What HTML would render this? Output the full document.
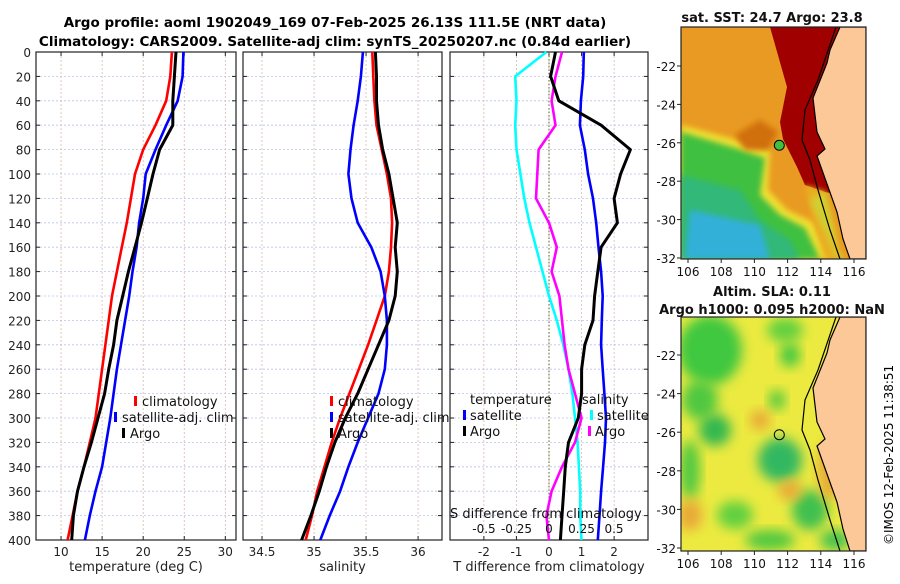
<!DOCTYPE html>
<html><head><meta charset="utf-8"><style>
body{margin:0;background:#fff;font-family:"DejaVu Sans","Liberation Sans",sans-serif;}
svg text{font-family:"DejaVu Sans","Liberation Sans",sans-serif;}
</style></head><body>
<svg id="fig" width="900" height="580" viewBox="0 0 900 580" xmlns="http://www.w3.org/2000/svg">
<defs>
<filter id="blur" x="-30%" y="-30%" width="160%" height="160%"><feGaussianBlur stdDeviation="6"/></filter>
<filter id="blur2" x="-30%" y="-30%" width="160%" height="160%"><feGaussianBlur stdDeviation="3"/></filter>
<clipPath id="c1"><rect x="681" y="27" width="185" height="232"/></clipPath>
<clipPath id="c2"><rect x="681" y="317" width="185" height="234"/></clipPath>
</defs>
<text x="335" y="27" text-anchor="middle" font-size="13.5" font-weight="bold">Argo profile: aoml 1902049_169 07-Feb-2025 26.13S 111.5E (NRT data)</text>
<text x="335" y="46" text-anchor="middle" font-size="13.5" font-weight="bold">Climatology: CARS2009. Satellite-adj clim: synTS_20250207.nc (0.84d earlier)</text>
<g id="panels"></g>
<g id="maps"></g>
<text transform="translate(893,545) rotate(-90)" font-size="12">©IMOS 12-Feb-2025 11:38:51</text>
</svg>
<script>
// ---------- data ----------
const depths=[0,20,40,60,80,100,120,140,160,180,200,220,240,260,280,300,320,340,360,380,400];
const tempClim=[23.5,23.3,22.8,21.5,20.0,19.0,18.5,18.0,17.4,16.8,16.2,15.8,15.4,15.0,14.6,14.2,13.5,12.8,12.0,11.4,10.8];
const tempSat=[24.9,24.8,24.2,22.8,21.5,20.3,20.0,19.5,19.2,18.7,18.3,17.8,17.3,16.8,16.4,16.0,15.5,15.0,14.2,13.5,12.9];
const tempArgo=[24.0,23.8,23.6,23.6,22.0,21.2,20.5,19.8,19.0,18.2,17.5,16.8,16.4,15.8,15.3,14.5,13.7,12.8,12.0,11.5,11.3];
const salClim=[35.56,35.57,35.58,35.6,35.65,35.7,35.74,35.75,35.74,35.72,35.68,35.6,35.52,35.43,35.34,35.25,35.17,35.1,35.03,34.98,34.92];
const salSat=[35.47,35.45,35.42,35.38,35.35,35.33,35.36,35.42,35.55,35.64,35.68,35.7,35.7,35.68,35.62,35.52,35.42,35.33,35.25,35.15,35.06];
const salArgo=[35.59,35.6,35.6,35.62,35.66,35.72,35.76,35.8,35.78,35.8,35.78,35.72,35.62,35.52,35.42,35.3,35.2,35.12,35.05,34.97,34.88];
const tDiffSat=[1.07,1.05,0.98,0.95,1.1,1.2,1.35,1.45,1.52,1.6,1.65,1.62,1.6,1.65,1.7,1.75,1.72,1.66,1.6,1.55,1.5];
const tDiffArgo=[0.2,0.05,0.3,1.6,2.5,2.2,2.0,2.1,1.6,1.5,1.4,1.35,1.1,1.0,1.0,0.9,0.6,0.5,0.45,0.4,0.35];
const sDiffSat=[-0.02,-0.26,-0.25,-0.26,-0.25,-0.22,-0.19,-0.15,-0.1,-0.05,0.0,0.06,0.11,0.15,0.18,0.2,0.22,0.23,0.24,0.24,0.25];
const sDiffArgo=[0.1,0.05,0.02,0.05,-0.08,-0.09,-0.1,0.0,0.06,0.02,0.08,0.1,0.12,0.15,0.2,0.25,0.2,0.1,0.02,-0.02,0.0];
const depthTicks=[0,20,40,60,80,100,120,140,160,180,200,220,240,260,280,300,320,340,360,380,400];
const tempTicks=[10,15,20,25,30];
const salTicks=[34.5,35,35.5,36];
const tDiffTicks=[-2,-1,0,1,2];
const sDiffTickLabels=["-0.5","-0.25","0","0.25","0.5"];
// ---------- helpers ----------
const NS="http://www.w3.org/2000/svg";
function mk(tag,attrs,parent){const e=document.createElementNS(NS,tag);for(const k in attrs)e.setAttribute(k,attrs[k]);parent.appendChild(e);return e;}
const Y0=52,Y1=540;
const yScale=d=>Y0+(d/400)*(Y1-Y0);
const P=document.getElementById('panels');
function panel(name,x0,x1,dmin,dmax,ticks,tickLabels,xlabel,showY){
  const g=mk('g',{},P);
  
  
  const xs=v=>x0+(v-dmin)/(dmax-dmin)*(x1-x0);
  depthTicks.forEach(d=>{const l=mk('line',{x1:x0,x2:x1,y1:yScale(d),y2:yScale(d),stroke:'#b8c4ee','stroke-width':0.8,'stroke-dasharray':'2,2'},g);
    });
  ticks.forEach((t,i)=>{const X=xs(t);
    const l=mk('line',{x1:X,x2:X,y1:Y0,y2:Y1,stroke:'#d8b8b0','stroke-width':0.8,'stroke-dasharray':'2,2'},g);
    
    mk('line',{x1:X,x2:X,y1:Y1,y2:Y1-4,stroke:'#222'},g);mk('line',{x1:X,x2:X,y1:Y0,y2:Y0+4,stroke:'#222'},g);
    const tx=mk('text',{x:X,y:Y1+16,'text-anchor':'middle','font-size':12,fill:'#222'},g);tx.textContent=tickLabels[i];
    });
  depthTicks.forEach(d=>{mk('line',{x1:x0,x2:x0+4,y1:yScale(d),y2:yScale(d),stroke:'#222'},g);mk('line',{x1:x1,x2:x1-4,y1:yScale(d),y2:yScale(d),stroke:'#222'},g);
    if(showY){const t=mk('text',{x:x0-5,y:yScale(d)+5,'text-anchor':'end','font-size':12,fill:'#222'},g);t.textContent=d;
      }});
  const r=mk('rect',{x:x0,y:Y0,width:x1-x0,height:Y1-Y0,fill:'none',stroke:'#222','stroke-width':1.2},g);
  
  if(xlabel){const t=mk('text',{x:(x0+x1)/2,y:571,'text-anchor':'middle','font-size':13,fill:'#222'},g);t.textContent=xlabel;
    }
  return {g,xs};
}
function line(p,vals,xs,color,name,w){
  const pts=vals.map((v,i)=>xs(v).toFixed(1)+','+yScale(depths[i]).toFixed(1)).join(' ');
  const pl=mk('polyline',{points:pts,fill:'none',stroke:color,'stroke-width':w||2.6,'stroke-linejoin':'round'},p.g);
  
  
}
function txt(g,x,y,s,name,anchor){const t=mk('text',{x:x,y:y,'font-size':13,fill:'#111','text-anchor':anchor||'start'},g);t.textContent=s;
  return t;}
function mark(g,x,y,c){mk('rect',{x:x,y:y-10,width:3,height:10,fill:c},g);}
// ---------- panel 1 ----------
const p1=panel('temperature-panel',36,236,6.95,31.3,tempTicks,tempTicks.map(String),'temperature (deg C)',true);
line(p1,tempClim,p1.xs,'#f00','temp-climatology-line');
line(p1,tempSat,p1.xs,'#00f','temp-satellite-line');
line(p1,tempArgo,p1.xs,'#000','temp-argo-line',3);
mark(p1.g,134,406,'#f00');txt(p1.g,142,406,'climatology','legend-climatology');
mark(p1.g,114,422,'#00f');txt(p1.g,122,422,'satellite-adj. clim','legend-satellite');
mark(p1.g,122,438,'#000');txt(p1.g,130,438,'Argo','legend-argo');
// ---------- panel 2 ----------
const p2=panel('salinity-panel',243,442,34.317,36.23,salTicks,salTicks.map(String),'salinity',false);
line(p2,salClim,p2.xs,'#f00','sal-climatology-line');
line(p2,salSat,p2.xs,'#00f','sal-satellite-line');
line(p2,salArgo,p2.xs,'#000','sal-argo-line',3);
mark(p2.g,330,406,'#f00');txt(p2.g,338,406,'climatology','legend-climatology');
mark(p2.g,330,422,'#00f');txt(p2.g,338,422,'satellite-adj. clim','legend-satellite');
mark(p2.g,330,438,'#000');txt(p2.g,338,438,'Argo','legend-argo');
// ---------- panel 3 ----------
const p3=panel('difference-panel',450,648,-3.04,3.04,tDiffTicks,tDiffTicks.map(String),'T difference from climatology',false);
const sx=v=>549+v*130;
mk('line',{x1:549,x2:549,y1:Y0,y2:Y1,stroke:'#556b2f','stroke-width':1,'stroke-dasharray':'1.5,2'},p3.g);
line(p3,sDiffSat,sx,'#0ff','s-diff-satellite-line');
line(p3,sDiffArgo,sx,'#f0f','s-diff-argo-line');
line(p3,tDiffSat,p3.xs,'#00f','t-diff-satellite-line');
line(p3,tDiffArgo,p3.xs,'#000','t-diff-argo-line',3);
txt(p3.g,470,404,'temperature','legend-temperature-header');
mark(p3.g,463,420,'#00f');txt(p3.g,470,420,'satellite','legend-t-satellite');
mark(p3.g,463,436,'#000');txt(p3.g,470,436,'Argo','legend-t-argo');
txt(p3.g,582,404,'salinity','legend-salinity-header');
mark(p3.g,590,420,'#0ff');txt(p3.g,597,420,'satellite','legend-s-satellite');
mark(p3.g,588,436,'#f0f');txt(p3.g,595,436,'Argo','legend-s-argo');
txt(p3.g,450,518,'S difference from climatology','s-axis-title');
[-0.5,-0.25,0,0.25,0.5].forEach((v,i)=>{const t=txt(p3.g,sx(v),533,sDiffTickLabels[i],'s-tick-label','middle');t.setAttribute('font-size','12');});
// ---------- maps ----------
const M=document.getElementById('maps');
const lonX=l=>688+(l-106)*16.6;
function mapFrame(name){
  const g=mk('g',{},M);
  
  
  return g;
}
function axes(g,top,bot,latY){
  mk('rect',{x:681,y:top,width:185,height:bot-top,fill:'none',stroke:'#222','stroke-width':1.2},g);
  [106,108,110,112,114,116].forEach(l=>{const X=lonX(l);mk('line',{x1:X,x2:X,y1:bot,y2:bot+4,stroke:'#222'},g);
    const t=txt(g,X,bot+17,String(l),'lon-tick-label','middle');t.setAttribute('font-size','12');});
  [-22,-24,-26,-28,-30,-32].forEach(l=>{const Y=latY(l);mk('line',{x1:677,x2:681,y1:Y,y2:Y,stroke:'#222'},g);
    const t=txt(g,676,Y+5,String(l),'lat-tick-label','end');t.setAttribute('font-size','12');});
}
// top map: SST
const g1=mapFrame('sst-map');
const lat1=l=>66+(-22-l)*19.2;
const m1=mk('g',{'clip-path':'url(#c1)'},g1);
mk('rect',{x:681,y:27,width:185,height:232,fill:'#e89a22'},m1);
mk('polygon',{points:'681,125 737,140 770,150 768,190 787,210 813,222 830,259 681,259',fill:'#f0e030',filter:'url(#blur2)'},m1);
mk('polygon',{points:'681,132 735,148 765,158 760,195 780,215 805,228 820,259 681,259',fill:'#40c040',filter:'url(#blur2)'},m1);
mk('polygon',{points:'681,175 740,190 760,220 790,240 800,259 681,259',fill:'#30b878',filter:'url(#blur2)'},m1);
mk('polygon',{points:'690,210 760,225 770,259 685,259',fill:'#30b0d8',filter:'url(#blur2)'},m1);
mk('polygon',{points:'735,135 760,120 778,132 768,150 745,150',fill:'#d07010',filter:'url(#blur2)'},m1);
mk('polygon',{points:'770,27 866,27 866,200 825,192 805,185 797,167 783,139 780,122 787,87',fill:'#a00000'},m1);
mk('polygon',{points:'805,185 825,192 835,230 840,259 825,259 812,215',fill:'#e8b020',filter:'url(#blur2)'},m1);
mk('polygon',{points:'810,200 825,192 838,250 845,259 838,259',fill:'#d0d030',filter:'url(#blur2)'},m1);
const land='840,27 830,50 827,63 823,73 813,98 817,132 825,149 817,156 827,184 837,212 843,239 850,259 866,259 866,27';
mk('polygon',{points:land,fill:'#fcc898',stroke:'#000','stroke-width':1.2},m1);
mk('polyline',{points:'836,27 818,80 805,110 802,140 810,160 818,190 830,230 840,259',fill:'none',stroke:'#000','stroke-width':1.2},m1);
const d1=mk('circle',{cx:lonX(111.5),cy:lat1(-26.13),r:5,fill:'#40c040',stroke:'#000','stroke-width':1},g1);

axes(g1,27,259,lat1);
let t=txt(g1,772,22,'sat. SST: 24.7 Argo: 23.8','sst-map-title','middle');t.setAttribute('font-weight','bold');
// bottom map: SLA
const g2=mapFrame('sla-map');
const lat2=l=>355+(-22-l)*19.3;
const m2=mk('g',{'clip-path':'url(#c2)'},g2);
mk('rect',{x:681,y:317,width:185,height:234,fill:'#ecea40'},m2);
const blobs=[[710,350,32,35,'#40c840'],[700,400,18,20,'#50c840'],[785,330,18,12,'#60d040'],[790,355,10,12,'#40c840'],[777,400,8,10,'#50c840'],[715,430,16,16,'#30b850'],[780,460,22,22,'#30b860'],[690,470,10,30,'#50c840'],[735,515,18,14,'#60d040'],[810,510,18,20,'#40c050'],[770,540,25,10,'#50c840'],[835,540,15,10,'#40c050']];
blobs.forEach(b=>mk('ellipse',{cx:b[0],cy:b[1],rx:b[2],ry:b[3],fill:b[4],filter:'url(#blur)'},m2));
[[690,515,12,16],[790,490,12,10],[760,420,10,10],[830,470,12,30]].forEach(b=>mk('ellipse',{cx:b[0],cy:b[1],rx:b[2],ry:b[3],fill:'#e8a838',filter:'url(#blur)'},m2));
const land2='840,317 830,340 827,353 823,363 813,388 817,422 825,439 817,446 827,474 837,502 843,529 850,551 866,551 866,317';
mk('polygon',{points:land2,fill:'#fcc898',stroke:'#000','stroke-width':1.2},m2);
mk('polyline',{points:'836,317 818,370 805,400 802,430 810,450 818,480 830,520 840,551',fill:'none',stroke:'#000','stroke-width':1.2},m2);
const d2=mk('circle',{cx:lonX(111.5),cy:lat2(-26.13),r:5,fill:'none',stroke:'#000','stroke-width':1},g2);

axes(g2,317,551,lat2);
t=txt(g2,772,296,'Altim. SLA: 0.11','sla-map-title','middle');t.setAttribute('font-weight','bold');
t=txt(g2,772,314,'Argo h1000: 0.095 h2000: NaN','sla-map-subtitle','middle');t.setAttribute('font-weight','bold');
</script>
</body></html>
